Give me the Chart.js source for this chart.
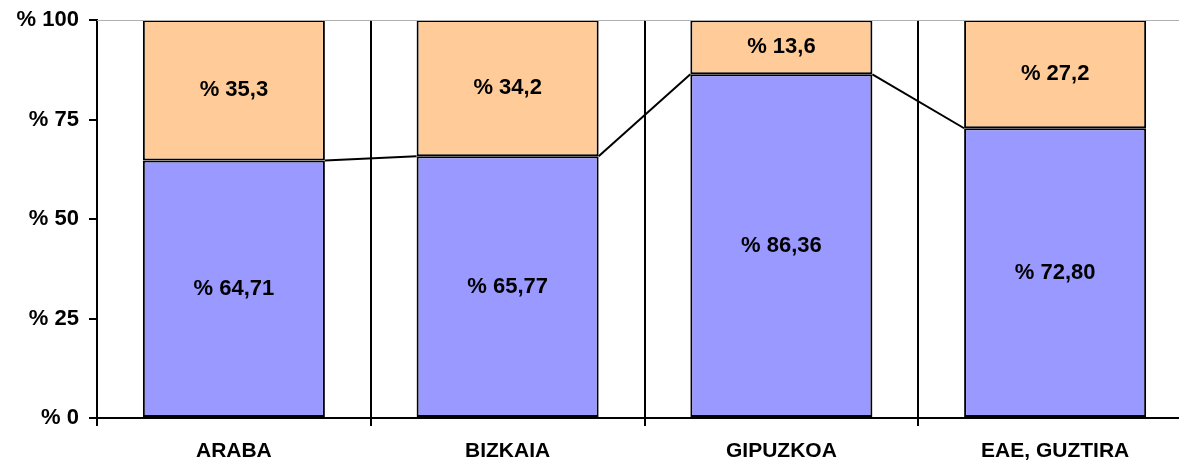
<!DOCTYPE html>
<html>
<head>
<meta charset="utf-8">
<script src="https://cdn.jsdelivr.net/npm/chart.js@4"></script>
<style>
  html, body { margin: 0; padding: 0; background: #fff; overflow: hidden; }
  #wrap { width: 1200px; height: 464px; }
</style>
</head>
<body>
<div id="wrap"><canvas id="chart"></canvas></div>
<script>
const categories = ['ARABA', 'BIZKAIA', 'GIPUZKOA', 'EAE, GUZTIRA'];
const blueValues = [64.71, 65.77, 86.36, 72.80];
const orangeValues = [35.3, 34.2, 13.6, 27.2];
const yTicks = [0, 25, 50, 75, 100];

const FONT = "'Liberation Sans', Arial, sans-serif";

// Series lines between the tops of the lower segments
const seriesLines = {
    id: 'seriesLines',
    afterDatasetsDraw(chart) {
        const ctx = chart.ctx;
        const bars = chart.getDatasetMeta(0).data;
        ctx.save();
        ctx.strokeStyle = '#000';
        ctx.lineWidth = 2;
        for (let i = 0; i < bars.length - 1; i++) {
            const a = bars[i], b = bars[i + 1];
            ctx.beginPath();
            ctx.moveTo(a.x + a.width / 2, a.y);
            ctx.lineTo(b.x - b.width / 2, b.y);
            ctx.stroke();
        }
        // light top border of the plot
        const area = chart.chartArea;
        ctx.strokeStyle = '#b0b0b0';
        ctx.lineWidth = 1;
        ctx.beginPath();
        ctx.moveTo(area.left, area.top + 0.5);
        ctx.lineTo(area.right, area.top + 0.5);
        ctx.stroke();
        ctx.restore();
    }
};

// Value labels in the middle of each segment
const segmentLabels = {
    id: 'segmentLabels',
    afterDatasetsDraw(chart) {
        const ctx = chart.ctx;
        ctx.save();
        ctx.font = 'bold 22px ' + FONT;
        ctx.fillStyle = '#000';
        ctx.textAlign = 'center';
        ctx.textBaseline = 'middle';
        chart.data.datasets.forEach((ds, di) => {
            chart.getDatasetMeta(di).data.forEach((bar, i) => {
                const v = ds.data[i];
                const txt = '% ' + v.toFixed(di === 0 ? 2 : 1).replace('.', ',');
                const yMid = (bar.y + bar.base) / 2;
                ctx.fillText(txt, bar.x, yMid);
            });
        });
        ctx.restore();
    }
};

new Chart(document.getElementById('chart'), {
    type: 'bar',
    data: {
        labels: categories,
        datasets: [{
            data: blueValues,
            backgroundColor: '#9999FF',
            borderColor: '#000',
            borderWidth: 2,
            borderSkipped: false
        }, {
            data: orangeValues,
            backgroundColor: '#FFCC99',
            borderColor: '#000',
            borderWidth: 2,
            borderSkipped: false
        }]
    },
    options: {
        responsive: true,
        maintainAspectRatio: false,
        animation: false,
        barPercentage: 0.665,
        categoryPercentage: 1,
        layout: { padding: { top: 20, right: 8, left: 0, bottom: 0 } },
        plugins: {
            legend: { display: false },
            tooltip: { enabled: false }
        },
        scales: {
            x: {
                stacked: true,
                offset: true,
                afterFit: (s) => { s.height = 46; },
                border: { display: true, color: '#000', width: 2 },
                grid: {
                    display: true,
                    offset: true,
                    color: '#000',
                    lineWidth: 2,
                    drawOnChartArea: true,
                    drawTicks: true,
                    tickLength: 8,
                    tickColor: '#000'
                },
                ticks: {
                    color: '#000',
                    padding: 13,
                    font: { family: FONT, size: 21, weight: 'bold' }
                }
            },
            y: {
                stacked: true,
                min: 0,
                max: 100,
                afterFit: (s) => { s.width = 97; s.paddingTop = 0; s.paddingBottom = 0; },
                afterBuildTicks: (s) => { s.ticks = yTicks.map(v => ({ value: v })); },
                border: { display: true, color: '#000', width: 2 },
                grid: {
                    drawOnChartArea: false,
                    drawTicks: true,
                    tickLength: 8,
                    color: '#000',
                    lineWidth: 2
                },
                ticks: {
                    color: '#000',
                    padding: 10,
                    font: { family: FONT, size: 22, weight: 'bold' },
                    callback: (v) => '% ' + v
                }
            }
        }
    },
    plugins: [seriesLines, segmentLabels]
});
</script>
</body>
</html>
